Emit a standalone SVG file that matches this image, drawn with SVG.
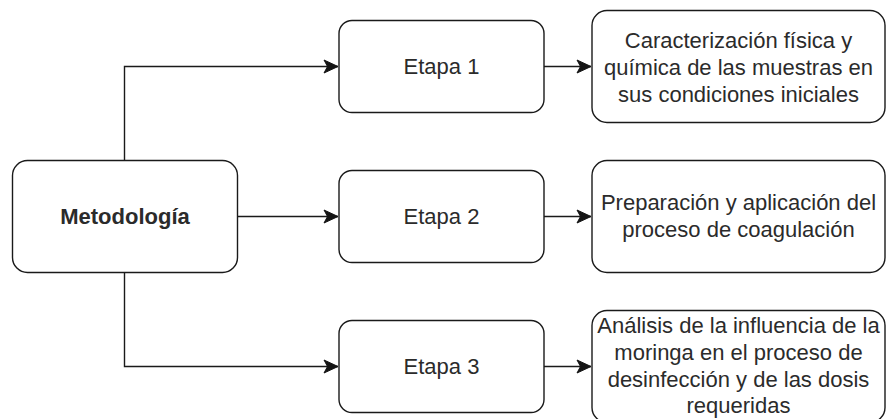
<svg xmlns="http://www.w3.org/2000/svg" width="886" height="419" viewBox="0 0 886 419">
  <defs>
    <marker id="arr" markerUnits="userSpaceOnUse" markerWidth="16" markerHeight="16" viewBox="-15 -8 16 16" refX="0" refY="0" orient="auto">
      <path d="M0,0 L-14,-6.5 L-10.5,0 L-14,6.5 Z" fill="#141414" stroke="#141414" stroke-width="1" stroke-linejoin="miter"/>
    </marker>
  </defs>
  <style>
    .box { fill: #ffffff; stroke: #1a1a1a; stroke-width: 1.4; }
    .edge { fill: none; stroke: #1a1a1a; stroke-width: 1.4; }
    .t { font-family: "Liberation Sans", Arial, sans-serif; font-size: 22px; fill: #2b2b2b; text-anchor: middle; }
    .b { font-weight: bold; }
  </style>
  <rect width="886" height="419" fill="#ffffff"/>
  <g id="connectors">
    <path class="edge" d="M124.5,160 V66.5 H338" marker-end="url(#arr)"/>
    <path class="edge" d="M237.5,216.5 H338" marker-end="url(#arr)"/>
    <path class="edge" d="M124.5,272 V366.5 H338" marker-end="url(#arr)"/>
    <path class="edge" d="M544,66.5 H591" marker-end="url(#arr)"/>
    <path class="edge" d="M544,216.5 H591" marker-end="url(#arr)"/>
    <path class="edge" d="M544,366.5 H591" marker-end="url(#arr)"/>
  </g>
  <g id="metodologia">
    <rect class="box" x="12.5" y="160.5" width="225" height="112" rx="15" ry="15"/>
    <text class="t b" x="125" y="224">Metodología</text>
  </g>
  <g id="etapa1">
    <rect class="box" x="339" y="20.5" width="205" height="92" rx="13" ry="13"/>
    <text class="t" x="441.5" y="74">Etapa 1</text>
  </g>
  <g id="etapa2">
    <rect class="box" x="339" y="170.5" width="205" height="92" rx="13" ry="13"/>
    <text class="t" x="441.5" y="224">Etapa 2</text>
  </g>
  <g id="etapa3">
    <rect class="box" x="339" y="320.5" width="205" height="92" rx="13" ry="13"/>
    <text class="t" x="441.5" y="374">Etapa 3</text>
  </g>
  <g id="resultado1">
    <rect class="box" x="592" y="10.5" width="293" height="112" rx="15" ry="15"/>
    <text class="t" x="738.5" y="48">Caracterización física y</text>
    <text class="t" x="738.5" y="75">química de las muestras en</text>
    <text class="t" x="738.5" y="102">sus condiciones iniciales</text>
  </g>
  <g id="resultado2">
    <rect class="box" x="592" y="160.5" width="293" height="112" rx="15" ry="15"/>
    <text class="t" x="738.5" y="210">Preparación y aplicación del</text>
    <text class="t" x="738.5" y="237">proceso de coagulación</text>
  </g>
  <g id="resultado3">
    <rect class="box" x="592" y="310.5" width="293" height="112" rx="15" ry="15"/>
    <text class="t" x="738.5" y="333">Análisis de la influencia de la</text>
    <text class="t" x="738.5" y="360">moringa en el proceso de</text>
    <text class="t" x="738.5" y="387">desinfección y de las dosis</text>
    <text class="t" x="738.5" y="413">requeridas</text>
  </g>
</svg>
